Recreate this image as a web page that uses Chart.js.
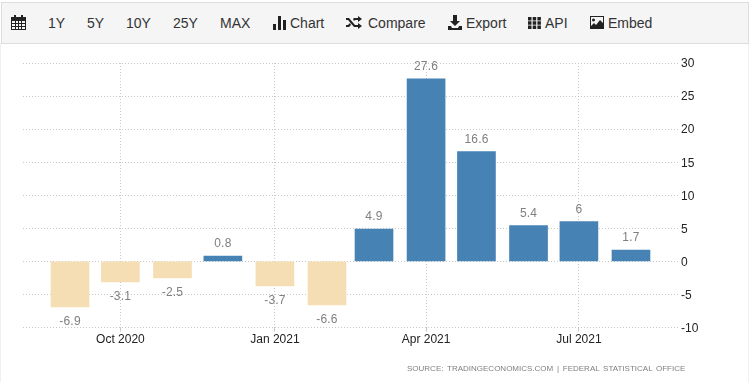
<!DOCTYPE html>
<html>
<head>
<meta charset="utf-8">
<script src="https://cdn.jsdelivr.net/npm/chart.js@4"></script>
<style>
html, body { margin: 0; padding: 0; background: #fff; overflow: hidden; }
#page { position: relative; width: 751px; height: 382px; font-family: "Liberation Sans", Arial, sans-serif; }
#edge { position: absolute; left: 0; top: 43px; width: 747px; height: 339px; border-left: 1px solid #f0f0f0; border-right: 1px solid #f0f0f0; }
#bar { position: absolute; left: 1px; top: 2px; width: 746px; height: 40px; background: #f5f5f5; border: 1px solid #ddd; }
#page span, #page svg { position: absolute; }
#page span.t { top: 15px; font-size: 14px; line-height: 16px; color: #333; white-space: nowrap; }
#page svg { fill: #222; }
#source { left: 407px; top: 364px; font-size: 8px; line-height: 10px; word-spacing: 1.5px; color: #7f7f7f; white-space: nowrap; }
canvas { position: absolute; left: 0; top: 0; }
</style>
</head>
<body>
<div id="page">
  <div id="edge"></div>
  <canvas id="myChart" width="751" height="382"></canvas>
  <div id="bar"></div>
  <svg style="left:11px;top:15px" width="15" height="15" viewBox="0 0 15 15"><path d="M0 2h3V0h2v2h5V0h2v2h3v13H0zM1 6v2h3V6zm4 0v2h2V6zm3 0v2h2V6zm3 0v2h3V6zM1 9v2h3V9zm4 0v2h2V9zm3 0v2h2V9zm3 0v2h3V9zM1 12v2h3v-2zm4 0v2h2v-2zm3 0v2h2v-2zm3 0v2h3v-2z"/></svg>
  <span class="t" style="left:48px">1Y</span>
  <span class="t" style="left:87px">5Y</span>
  <span class="t" style="left:126px">10Y</span>
  <span class="t" style="left:173px">25Y</span>
  <span class="t" style="left:220px">MAX</span>
  <svg style="left:273px;top:16px" width="14" height="14" viewBox="0 0 14 14"><path d="M0 8h3v6H0zM5 0h3v14H5zM10 4h3v10h-3z"/></svg>
  <span class="t" style="left:290px">Chart</span>
  <svg style="left:346px;top:16px" width="16" height="13" viewBox="0 0 16 13"><path d="M0 2h3l6 7h3V7l4 3-4 3v-2H8L2 4H0zM0 9h2l2-2 1 2-2 2H0zM8 2h4V0l4 3-4 3V4H9L8 5 7 3z"/></svg>
  <span class="t" style="left:368px">Compare</span>
  <svg style="left:448px;top:15px" width="14" height="15" viewBox="0 0 14 15"><path d="M5 0h4v6h3l-5 5-5-5h3zM0 11h3l1 2h6l1-2h3v4H0z"/></svg>
  <span class="t" style="left:466px">Export</span>
  <svg style="left:528px;top:17px" width="13" height="12" viewBox="0 0 13 12"><path d="M0 0h3.500v3.500H0zM4.700 0h3.500v3.500H4.700zM9.400 0h3.500v3.500H9.400zM0 4.300h3.500v3.500H0zM4.700 4.300h3.500v3.500H4.700zM9.400 4.300h3.500v3.500H9.400zM0 8.500h3.500V12H0zM4.700 8.500h3.500V12H4.700zM9.400 8.500h3.500V12H9.400z"/></svg>
  <span class="t" style="left:545px">API</span>
  <svg style="left:590px;top:16px" width="14" height="13" viewBox="0 0 14 13"><path fill-rule="evenodd" d="M0 0h14v13H0zM1 1v9l3-3 2 2 4-5 3 3V1zM3.500 2.500a1.500 1.500 0 1 0 .01 0z"/></svg>
  <span class="t" style="left:608px">Embed</span>
  <span id="source">SOURCE: TRADINGECONOMICS.COM | FEDERAL STATISTICAL OFFICE</span>
</div>
<script>
var months = ['2020-09-01', '2020-10-01', '2020-11-01', '2020-12-01', '2021-01-01', '2021-02-01',
    '2021-03-01', '2021-04-01', '2021-05-01', '2021-06-01', '2021-07-01', '2021-08-01'];
var values = [-6.9, -3.1, -2.5, 0.8, -3.7, -6.6, 4.9, 27.6, 16.6, 5.4, 6, 1.7];
var tickDates = ['2020-10-01', '2021-01-01', '2021-04-01', '2021-07-01'];
var tickLabels = ['Oct 2020', 'Jan 2021', 'Apr 2021', 'Jul 2021'];
var axisStart = '2020-08-04';
var axisEnd = '2021-08-29';

// no date adapter here, so the x axis is linear in days
function toDay(s) {
    return Date.parse(s + 'T00:00:00Z') / 86400000;
}

var barLabels = {
    id: 'barLabels',
    afterDatasetsDraw: function (chart) {
        var ctx = chart.ctx;
        ctx.save();
        ctx.font = '12px "Liberation Sans", Arial, sans-serif';
        ctx.letterSpacing = '0.2px';
        ctx.fillStyle = '#7f7f7f';
        ctx.textAlign = 'center';
        ctx.textBaseline = 'middle';
        chart.getDatasetMeta(0).data.forEach(function (bar, i) {
            var off = values[i] < 0 ? 15 : -12;
            ctx.fillText(String(values[i]), bar.x, bar.y + off);
        });
        ctx.restore();
    }
};

var ctx = document.getElementById('myChart').getContext('2d');
var myChart = new Chart(ctx, {
    type: 'bar',
    data: {
        datasets: [{
            data: months.map(function (m, i) { return { x: toDay(m), y: values[i] }; }),
            backgroundColor: values.map(function (v) { return v < 0 ? '#f5deb3' : '#4682b4'; }),
            barThickness: 38
        }]
    },
    options: {
        responsive: false,
        animation: false,
        layout: { padding: { left: 23, top: 63, right: 0, bottom: 0 } },
        plugins: { legend: { display: false }, tooltip: { enabled: false } },
        scales: {
            x: {
                type: 'linear',
                offset: false,
                min: toDay(axisStart),
                max: toDay(axisEnd),
                afterBuildTicks: function (axis) {
                    axis.ticks = tickDates.map(function (d) { return { value: toDay(d) }; });
                },
                afterFit: function (axis) { axis.height = 54.5; },
                border: { display: false, dash: [1, 2] },
                grid: { offset: false, color: '#c8c8c8', lineWidth: 1, tickLength: 4, tickColor: '#c8c8c8' },
                ticks: {
                    autoSkip: false,
                    maxRotation: 0,
                    padding: 1,
                    color: '#222',
                    font: { family: '"Liberation Sans", Arial, sans-serif', size: 12 },
                    callback: function (v, i) { return tickLabels[i]; }
                }
            },
            y: {
                position: 'right',
                min: -10,
                max: 30,
                afterFit: function (axis) { axis.width = 73; },
                border: { display: false, dash: [1, 2] },
                grid: { color: '#c8c8c8', lineWidth: 1, drawTicks: false },
                ticks: {
                    stepSize: 5,
                    padding: 3,
                    labelOffset: 1,
                    color: '#222',
                    font: { family: '"Liberation Sans", Arial, sans-serif', size: 12 }
                }
            }
        }
    },
    plugins: [barLabels]
});
</script>
</body>
</html>
